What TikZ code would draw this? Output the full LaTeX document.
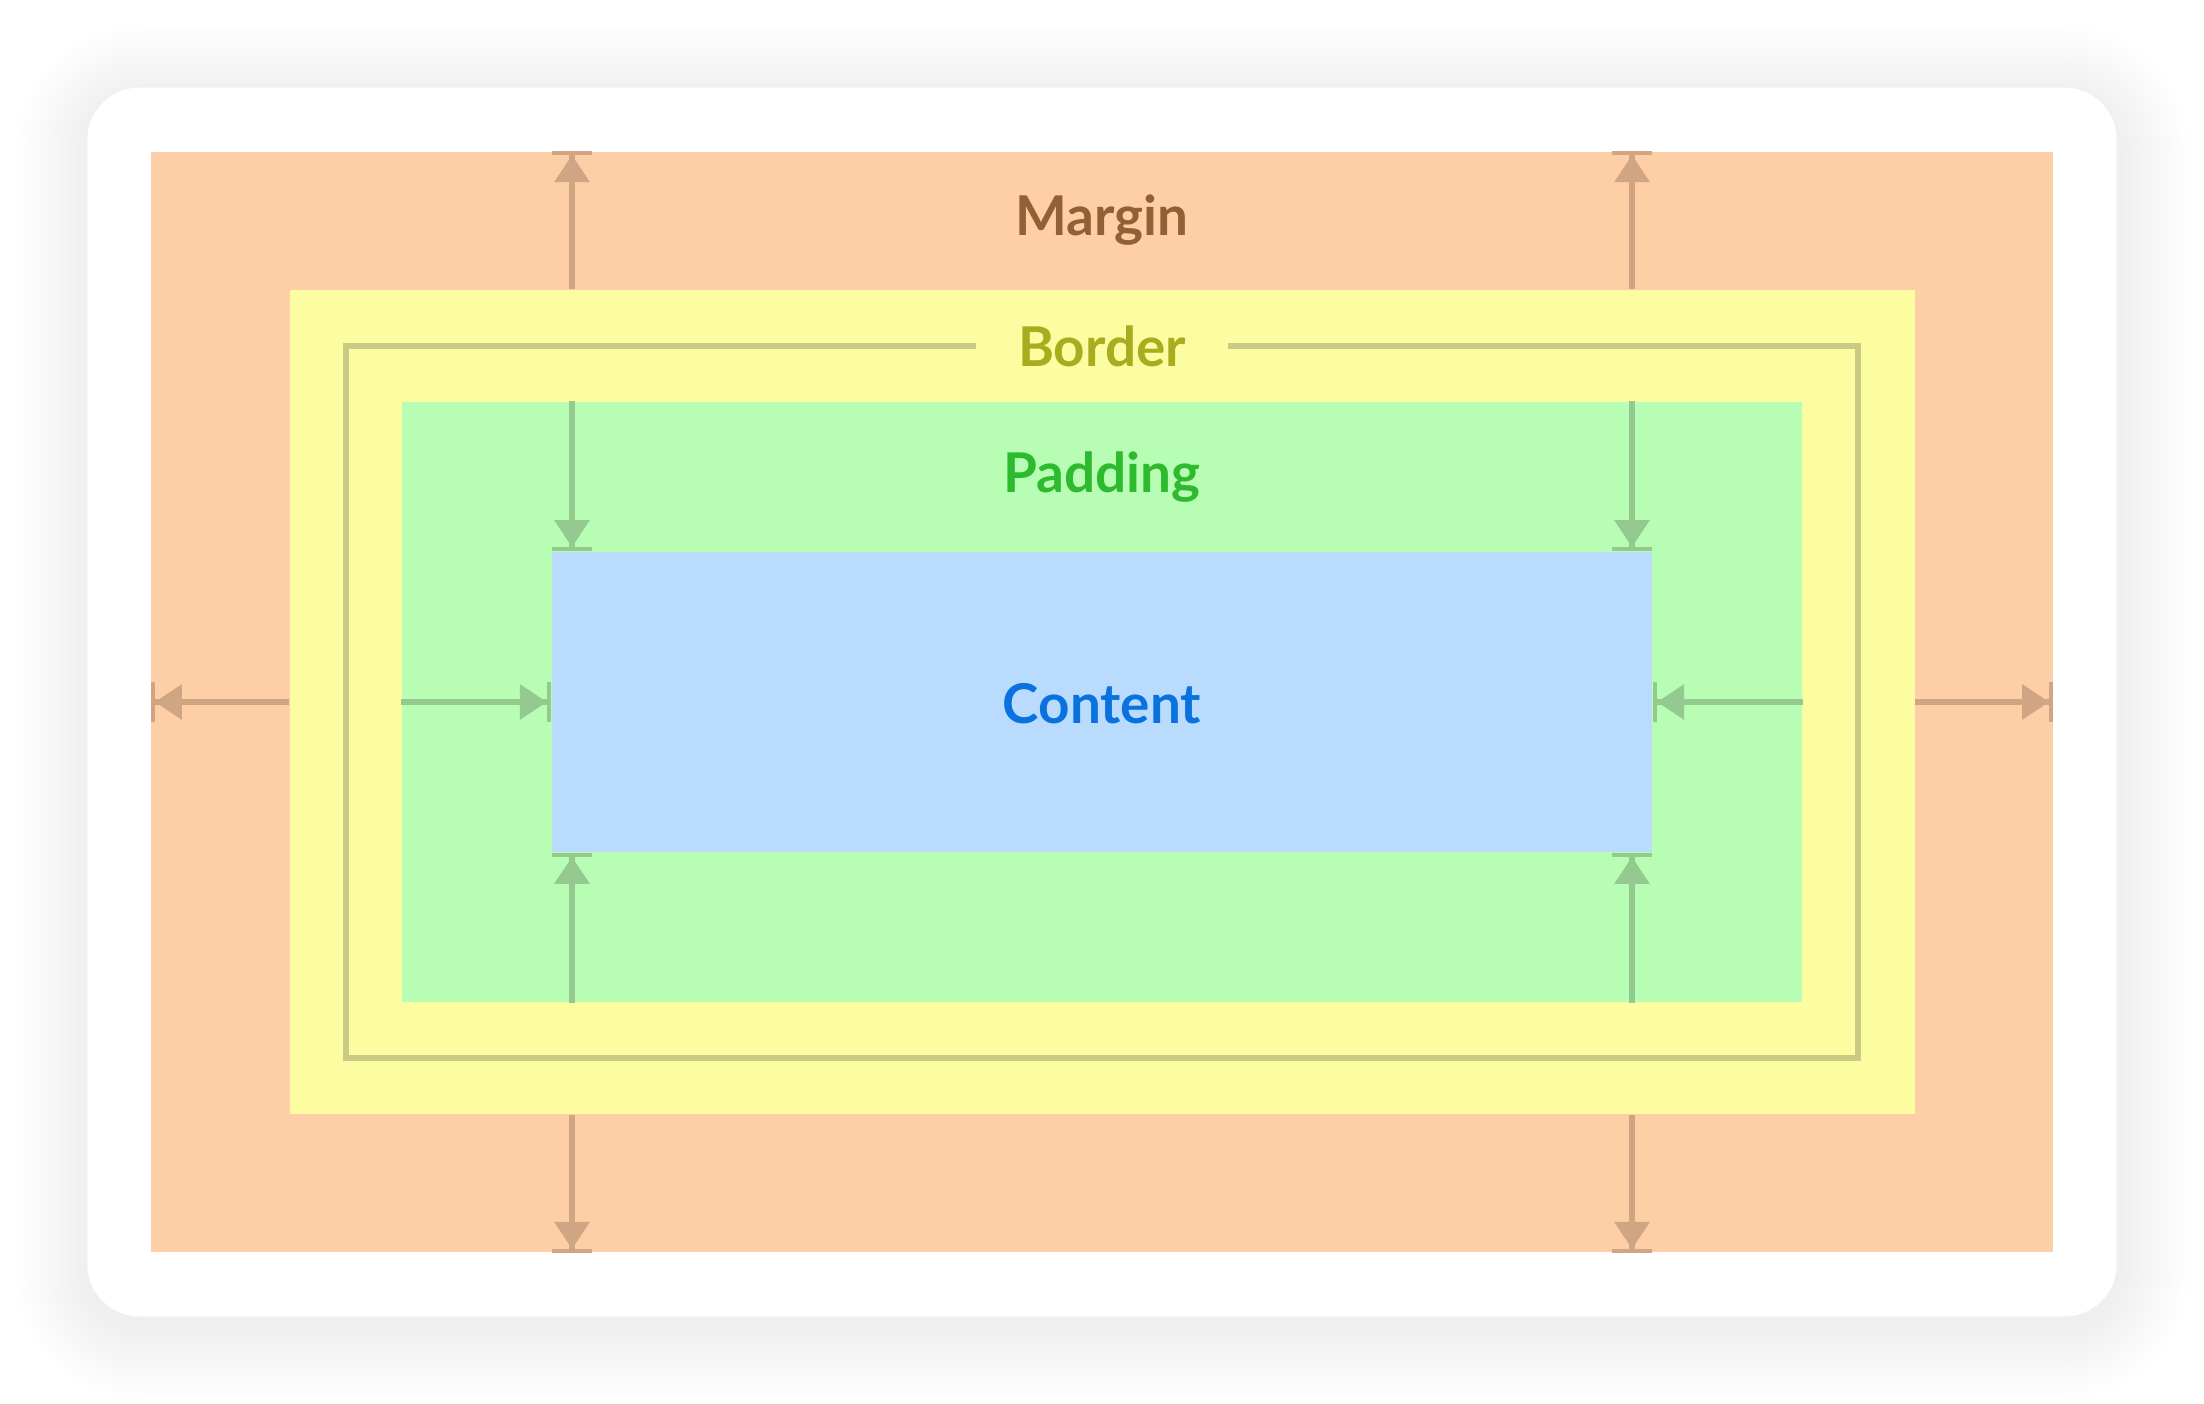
\documentclass[tikz,border=0pt]{standalone}
\usepackage{fontspec}
\setmainfont{Lato}
\usetikzlibrary{arrows.meta}
\definecolor{margincol}{HTML}{FECFA6}
\definecolor{bordercol}{HTML}{FBFDA0}
\definecolor{paddingcol}{HTML}{B7FEB4}
\definecolor{contentcol}{HTML}{B9DCFE}
\definecolor{framecol}{HTML}{C9CB85}
\definecolor{marrowcol}{HTML}{CFA584}
\definecolor{parrowcol}{HTML}{94C990}
\definecolor{margintext}{HTML}{926034}
\definecolor{bordertext}{HTML}{A8AC1E}
\definecolor{paddingtext}{HTML}{2EBA2E}
\definecolor{contenttext}{HTML}{0A72DE}
\tikzset{%
	layer/.style    = {rectangle, inner sep=0pt, draw=none},
	lbl/.style      = {inner sep=0pt, font=\fontsize{15.6}{18}\selectfont\bfseries}, % Labels
	frame/.style    = {draw=framecol, line width=1.7pt},
	marrow/.style   = {draw=marrowcol, line width=1.7pt,
		-{Triangle[length=7.7pt,width=9.7pt]Bar[width=11.4pt,line width=1.15pt]}},
	parrow/.style   = {draw=parrowcol, line width=1.7pt,
		-{Triangle[length=7.7pt,width=9.7pt]Bar[width=11.4pt,line width=1.15pt]}}
}

\begin{document}
\begin{tikzpicture}[x=0.01cm, y=-0.01cm]
                \useasboundingbox (0,0) rectangle (2204,1404);
                % soft shadow
                \foreach \s in {1,...,16}{
                    \pgfmathsetmacro\rr{14.8+\s*1.28}
                    \fill[black, opacity=0.0045, rounded corners=\rr pt]
                        (88-\s*4.5, 98-\s*4.5) rectangle (2116+\s*4.5, 1326+\s*4.5);
                }
                \node[layer, fill=white, rounded corners=14.8pt,
                    minimum width=20.28cm, minimum height=12.28cm] (card) at (1102,702) {};

                \node[layer, fill=margincol, minimum width=19cm, minimum height=11cm] (margin) at (1102,702) {};
                \node[layer, fill=bordercol, minimum width=16.24cm, minimum height=8.24cm] (border) at (1102,702) {};
                \node[lbl, text=bordertext, inner xsep=0.41cm] (btext) at (1102,346) {Border};
                \draw[frame] (btext.west) -| (346,1058) -| (1858,346) -- (btext.east);
                \node[layer, fill=paddingcol, minimum width=14cm, minimum height=6cm] (padding) at (1102,702) {};
                \node[layer, fill=contentcol, minimum width=11cm, minimum height=3cm] (content) at (1102,702) {};

                \coordinate (xl) at (572,0);
                \coordinate (xr) at (1632,0);

                \draw[marrow] (border.north -| xl) -- (margin.north -| xl);
                \draw[marrow] (border.north -| xr) -- (margin.north -| xr);
                \draw[marrow] (border.south -| xl) -- (margin.south -| xl);
                \draw[marrow] (border.south -| xr) -- (margin.south -| xr);
                \draw[marrow] (border.west |- content.west) -- (margin.west |- content.west);
                \draw[marrow] (border.east |- content.east) -- (margin.east |- content.east);

                \draw[parrow] (padding.north -| xl) -- (content.north -| xl);
                \draw[parrow] (padding.north -| xr) -- (content.north -| xr);
                \draw[parrow] (padding.south -| xl) -- (content.south -| xl);
                \draw[parrow] (padding.south -| xr) -- (content.south -| xr);
                \draw[parrow] (padding.west |- content.west) -- (content.west);
                \draw[parrow] (padding.east |- content.east) -- (content.east);

                \node[lbl, text=margintext, anchor=base] (mtext) at (1102,236) {Margin};
                \node[lbl, text=paddingtext, anchor=base] (ptext) at (1102,493) {Padding};
                \node[lbl, text=contenttext, anchor=base] (ctext) at (1102,723) {Content};
            \end{tikzpicture}
\end{document}
